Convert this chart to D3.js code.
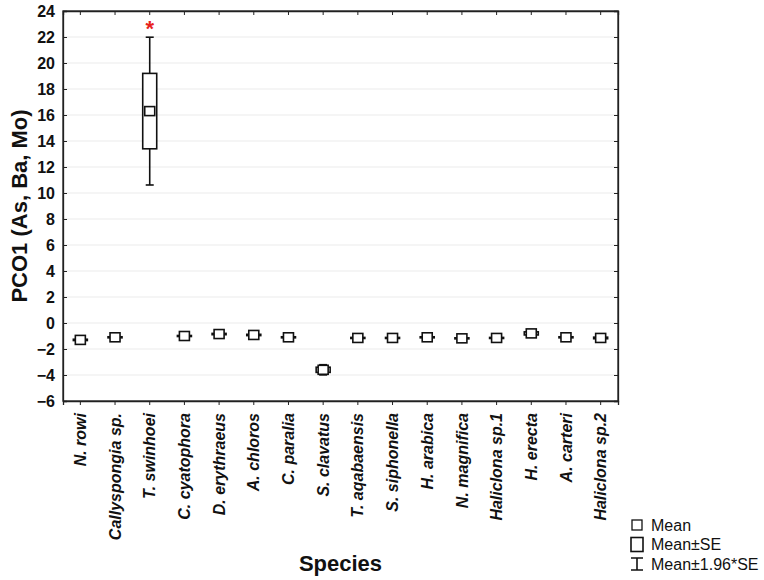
<!DOCTYPE html>
<html>
<head>
<meta charset="utf-8">
<script src="https://cdn.jsdelivr.net/npm/d3@7"></script>
<style>
  body { margin: 0; background: #fff; }
  svg { font-family: Arial, "Liberation Sans", sans-serif; }
</style>
</head>
<body>
<svg id="chart" width="764" height="580"></svg>
<script>
// data
const species = ["N. rowi", "Callyspongia sp.", "T. swinhoei", "C. cyatophora", "D. erythraeus",
    "A. chloros", "C. paralia", "S. clavatus", "T. aqabaensis", "S. siphonella", "H. arabica",
    "N. magnifica", "Haliclona sp.1", "H. erecta", "A. carteri", "Haliclona sp.2"];
const means = [-1.3, -1.1, 16.3, -1.0, -0.85, -0.92, -1.1, -3.6, -1.15, -1.15, -1.1, -1.18, -1.15, -0.8, -1.1, -1.15];
const stdErr = [0.05, 0.04, 2.9, 0.04, 0.05, 0.05, 0.04, 0.2, 0.04, 0.04, 0.04, 0.04, 0.04, 0.12, 0.04, 0.06];
const yTicks = [-6, -4, -2, 0, 2, 4, 6, 8, 10, 12, 14, 16, 18, 20, 22, 24];
const flagged = ["T. swinhoei"]; // marked with a red asterisk
const legendItems = ["Mean", "Mean±SE", "Mean±1.96*SE"];

const margin = { top: 11, right: 146, bottom: 179, left: 63 };
const width = 764, height = 580;
const innerW = width - margin.left - margin.right;
const innerH = height - margin.top - margin.bottom;

const svg = d3.select("#chart");
const g = svg.append("g").attr("transform", `translate(${margin.left},${margin.top})`);

const x = d3.scaleBand().domain(species).range([0, innerW]);
const y = d3.scaleLinear().domain([-6, 24]).range([innerH, 0]);
const cx = d => x(d) + x.bandwidth() / 2;

// faint gridlines
g.append("g")
    .selectAll("line")
    .data(yTicks.slice(1, -1))
    .enter().append("line")
    .attr("x1", 0).attr("x2", innerW)
    .attr("y1", d => y(d)).attr("y2", d => y(d))
    .attr("stroke", "#ebebeb")
    .attr("stroke-width", 1);

// axes
const left = g.append("g")
    .call(d3.axisLeft(y).tickValues(yTicks).tickSize(-4).tickPadding(8));
left.selectAll("text")
    .attr("font-size", 16).attr("font-weight", "bold").attr("fill", "#111")
    .attr("font-family", "Arial, 'Liberation Sans', sans-serif");

g.append("g").attr("transform", `translate(${innerW},0)`)
    .call(d3.axisRight(y).tickValues(yTicks).tickSize(-4).tickFormat(""));

g.append("g")
    .call(d3.axisTop(x).tickSize(-4).tickFormat(""));

const bottom = g.append("g").attr("transform", `translate(0,${innerH})`)
    .call(d3.axisBottom(x).tickSize(4).tickPadding(2));
bottom.selectAll("text")
    .attr("transform", "rotate(-90)")
    .attr("text-anchor", "end")
    .attr("dy", "0.35em")
    .attr("x", -12).attr("y", 0)
    .attr("font-size", 16).attr("font-weight", "bold").attr("font-style", "italic")
    .attr("fill", "#111")
    .attr("font-family", "Arial, 'Liberation Sans', sans-serif");

g.selectAll(".domain").attr("stroke", "#222").attr("stroke-width", 1.3);
g.selectAll(".tick line").attr("stroke", "#222").attr("stroke-width", 1);

// frame
g.append("rect")
    .attr("width", innerW).attr("height", innerH)
    .attr("fill", "none").attr("stroke", "#222").attr("stroke-width", 1.3);

// box plots: mean, mean±SE, mean±1.96*SE
const rows = species.map((s, i) => ({ s, m: means[i], se: stdErr[i] }));
const boxW = 14, capW = 8, meanW = 10, meanH = 9;

const boxes = g.append("g").selectAll("g")
    .data(rows)
    .enter().append("g")
    .attr("transform", d => `translate(${cx(d.s)},0)`);

boxes.append("line")
    .attr("y1", d => y(d.m + 1.96 * d.se)).attr("y2", d => y(d.m - 1.96 * d.se))
    .attr("stroke", "#111").attr("stroke-width", 1.6);
boxes.selectAll(".cap")
    .data(d => [d.m + 1.96 * d.se, d.m - 1.96 * d.se])
    .enter().append("line")
    .attr("x1", -capW / 2).attr("x2", capW / 2)
    .attr("y1", v => y(v)).attr("y2", v => y(v))
    .attr("stroke", "#111").attr("stroke-width", 1.6);
boxes.append("rect")
    .attr("x", -boxW / 2).attr("width", boxW)
    .attr("y", d => y(d.m + d.se))
    .attr("height", d => y(d.m - d.se) - y(d.m + d.se))
    .attr("fill", "#fff").attr("stroke", "#111").attr("stroke-width", 1.6);
boxes.append("rect")
    .attr("x", -meanW / 2).attr("width", meanW)
    .attr("y", d => y(d.m) - meanH / 2).attr("height", meanH)
    .attr("fill", "#fff").attr("stroke", "#111").attr("stroke-width", 1.6);

// red asterisk
g.selectAll(".star")
    .data(rows.filter(d => flagged.includes(d.s)))
    .enter().append("text")
    .attr("x", d => cx(d.s))
    .attr("y", d => y(d.m + 1.96 * d.se) - 1)
    .attr("text-anchor", "middle")
    .attr("font-size", 22).attr("font-weight", "bold")
    .attr("fill", "#e8221c")
    .text("*");

// axis titles
svg.append("text")
    .attr("transform", `translate(27,${margin.top + innerH / 2}) rotate(-90)`)
    .attr("text-anchor", "middle")
    .attr("font-size", 22).attr("font-weight", "bold").attr("fill", "#111")
    .text("PCO1 (As, Ba, Mo)");

svg.append("text")
    .attr("x", margin.left + innerW / 2).attr("y", 571)
    .attr("text-anchor", "middle")
    .attr("font-size", 22).attr("font-weight", "bold").attr("fill", "#111")
    .text("Species");

// legend
const legend = svg.append("g").attr("transform", "translate(637,525)");
const item = legend.selectAll("g")
    .data(legendItems)
    .enter().append("g")
    .attr("transform", (d, i) => `translate(0,${i * 19.5})`);

item.append("text")
    .attr("x", 14).attr("y", 5.5)
    .attr("font-size", 16).attr("fill", "#111")
    .text(d => d);

legend.append("rect")
    .attr("x", -5).attr("y", -5).attr("width", 10).attr("height", 10)
    .attr("fill", "#fff").attr("stroke", "#111").attr("stroke-width", 1.3);
legend.append("rect")
    .attr("x", -6).attr("y", 19.5 - 7).attr("width", 12).attr("height", 14)
    .attr("fill", "#fff").attr("stroke", "#111").attr("stroke-width", 1.6);
const wy = 39;
legend.append("path")
    .attr("d", `M-6,${wy - 6}H6M0,${wy - 6}V${wy + 6}M-6,${wy + 6}H6`)
    .attr("fill", "none").attr("stroke", "#111").attr("stroke-width", 1.6);
</script>
</body>
</html>
